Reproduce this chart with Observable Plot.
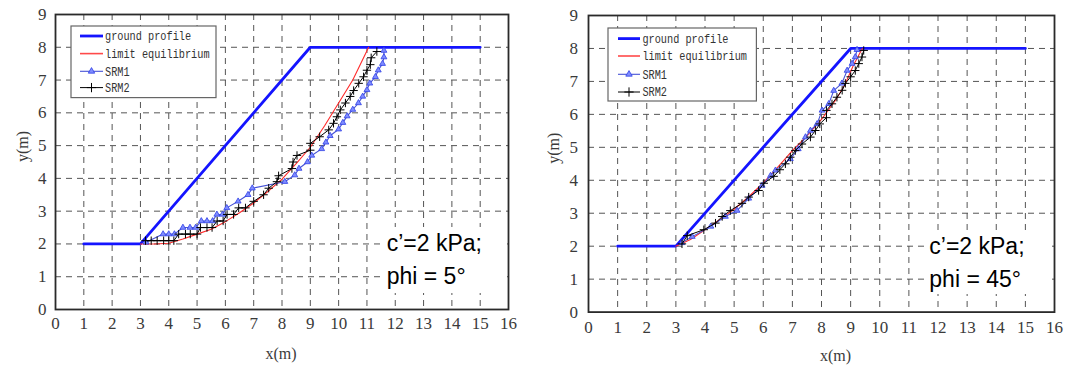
<!DOCTYPE html>
<html><head><meta charset="utf-8">
<script src="https://cdn.jsdelivr.net/npm/d3@7"></script>
<script src="https://cdn.jsdelivr.net/npm/@observablehq/plot@0.6"></script>
<style>
body{margin:0;background:#fff;}
#wrap{position:relative;width:1065px;height:367px;overflow:hidden;background:#fff;}
.panel{position:absolute;top:0;}
.note{position:absolute;font-family:"Liberation Sans",Arial,sans-serif;font-size:23px;line-height:33px;color:#000;white-space:nowrap;background:#fff;box-sizing:border-box;}
.leg{position:absolute;overflow:visible;}
</style></head><body><div id="wrap"></div>
<script>
// ---------- data ----------
const xTicks = d3.range(0, 17);
const yTicks = d3.range(0, 10);
const xGrid = d3.range(1, 16);
const yGrid = d3.range(1, 9);
const legendLabels = ["ground profile", "limit equilibrium", "SRM1", "SRM2"];
const notesLeft = ["c\u2019=2 kPa;", "phi = 5\u00b0"];
const notesRight = ["c\u2019=2 kPa;", "phi = 45\u00b0"];

const groundProfile = [[1,2],[3,2],[9,8],[15,8]];

// phi = 5 deg
const leLeft = [[3,2],[3.5,2.0],[4,2.02],[4.5,2.15],[5,2.3],[5.5,2.45],[6,2.68],[6.5,2.95],[7,3.25],[7.5,3.6],[8,3.98],[8.5,4.45],[9,4.95],[9.5,5.6],[10,6.3],[10.5,7.0],[11.06,8.0]];
const srm1Left = [[3.2,2.05],[3.8,2.3],[4.0,2.3],[4.2,2.3],[4.5,2.5],[4.75,2.5],[4.95,2.5],[5.15,2.7],[5.35,2.7],[5.55,2.7],[5.7,2.9],[5.9,2.9],[6.05,3.1],[6.45,3.3],[6.8,3.5],[6.95,3.7],[8.1,3.9],[8.45,4.1],[8.6,4.3],[8.9,4.5],[9.05,4.7],[9.4,4.9],[9.55,5.1],[9.7,5.3],[10.0,5.5],[10.15,5.7],[10.3,5.9],[10.5,6.1],[10.7,6.3],[10.85,6.5],[11.0,6.7],[11.1,6.9],[11.3,7.1],[11.4,7.3],[11.55,7.5],[11.6,7.7],[11.6,7.9]];
const srm2Left = [[3.18,2.1],[3.38,2.1],[3.59,2.1],[3.82,2.1],[4.0,2.1],[4.18,2.1],[4.35,2.3],[4.59,2.3],[4.76,2.3],[5.0,2.3],[5.12,2.5],[5.35,2.5],[5.53,2.5],[5.71,2.7],[5.92,2.7],[6.06,2.9],[6.29,2.9],[6.47,3.1],[6.71,3.1],[7.0,3.3],[7.35,3.5],[7.53,3.7],[7.82,3.9],[7.88,4.08],[8.35,4.3],[8.39,4.5],[8.53,4.7],[9.0,4.86],[9.0,5.07],[9.33,5.27],[9.65,5.48],[9.82,5.68],[9.94,5.88],[10.06,6.09],[10.24,6.3],[10.41,6.5],[10.53,6.68],[10.71,6.9],[10.88,7.1],[11.0,7.3],[11.12,7.47],[11.15,7.68],[11.35,7.87]];

// phi = 45 deg
const leRight = [[3,2],[3.5,2.2],[4,2.5],[4.5,2.8],[5,3.12],[5.5,3.5],[6,3.92],[6.5,4.4],[7,4.9],[7.5,5.35],[8,5.85],[8.5,6.45],[8.8,6.9],[9.1,7.5],[9.4,8.0]];
const srm1Right = [[3.2,2.1],[3.56,2.29],[4.2,2.6],[4.7,2.9],[5.1,3.08],[5.5,3.45],[5.96,3.84],[6.25,4.14],[6.42,4.3],[6.93,4.65],[7.2,4.95],[7.45,5.31],[7.62,5.51],[7.85,5.71],[8.02,6.12],[8.25,6.32],[8.42,6.72],[8.7,6.94],[8.88,7.33],[9.05,7.54],[9.16,7.74],[9.22,7.96]];
const srm2Right = [[3.21,2.07],[3.39,2.32],[3.96,2.5],[4.36,2.7],[4.59,2.9],[4.87,3.08],[5.27,3.3],[5.5,3.49],[5.84,3.69],[6.02,3.91],[6.36,4.12],[6.57,4.32],[6.76,4.5],[6.93,4.7],[7.1,4.9],[7.33,5.1],[7.62,5.31],[7.79,5.51],[7.94,5.71],[8.17,5.9],[8.17,6.12],[8.36,6.32],[8.53,6.52],[8.71,6.73],[8.82,6.94],[9.0,7.14],[9.16,7.33],[9.28,7.54],[9.39,7.74],[9.45,7.94]];

// ---------- styles ----------
const C = {ground:"#1414ff", le:"#ff2a2a", srm1:"#4652d6", srm1Fill:"#7f8cff", srm2:"#000", grid:"#555", frame:"#2a2a2a", tick:"#3a3a3a"};
const SERIF = "'Liberation Serif', 'DejaVu Serif', serif";

const panels = [
  {left:0, width:535, mL:55, mR:27, mT:14, mB:58, tickPadX:7, tickPadY:9, xLabDx:-1, yLabDx:-33,
   le:leLeft, s1:srm1Left, s2:srm2Left, notes:notesLeft,
   note:{l:383, t:228, w:124, h:66, pl:3.7, pt:-0.8},
   leg:{x:71.3, y:25.7, w:145, h:71.6, sx1:9, sx2:32, tx:34, rows:[10,27.6,45.3,61.6]}},
  {left:540, width:525, mL:48, mR:11, mT:15, mB:55.4, tickPadX:8.5, tickPadY:10.5, xLabDx:14, yLabDx:-35,
   le:leRight, s1:srm1Right, s2:srm2Right, notes:notesRight,
   note:{l:385, t:231, w:127, h:64, pl:4.3, pt:-1.5},
   leg:{x:68.3, y:27.7, w:148.4, h:73, sx1:10, sx2:32, tx:34.4, rows:[10.6,28,46.3,64]}}
];

const wrap = document.getElementById("wrap");
const X = d => d[0], Y = d => d[1];

for (const p of panels) {
  const div = document.createElement("div");
  div.className = "panel";
  div.style.left = p.left + "px";
  div.style.width = p.width + "px";
  div.style.height = "367px";
  wrap.appendChild(div);

  const chart = Plot.plot({
    width: p.width, height: 367,
    marginLeft: p.mL, marginRight: p.mR, marginTop: p.mT, marginBottom: p.mB,
    x: {domain: [0, 16], axis: null},
    y: {domain: [0, 9], axis: null},
    style: {fontFamily: SERIF, fontSize: "17px", background: "transparent", color: C.tick},
    marks: [
      Plot.ruleX(xGrid, {x: d => d, stroke: C.grid, strokeWidth: 1, strokeDasharray: "6,5"}),
      Plot.ruleY(yGrid, {y: d => d, stroke: C.grid, strokeWidth: 1, strokeDasharray: "6,5"}),
      Plot.line(groundProfile, {x: X, y: Y, stroke: C.ground, strokeWidth: 2.8}),
      Plot.line(p.le, {x: X, y: Y, stroke: C.le, strokeWidth: 1.1}),
      Plot.line(p.s1, {x: X, y: Y, stroke: C.srm1, strokeWidth: 1.1}),
      Plot.dot(p.s1, {x: X, y: Y, symbol: "triangle", r: 2.2, fill: C.srm1Fill, stroke: "#2f3fe6", strokeWidth: 0.8}),
      Plot.line(p.s2, {x: X, y: Y, stroke: C.srm2, strokeWidth: 1}),
      Plot.dot(p.s2, {x: X, y: Y, symbol: "plus", r: 2.8, stroke: C.srm2, fill: "none", strokeWidth: 1}),
      Plot.frame({stroke: C.frame, strokeWidth: 1.8}),
      Plot.axisX(xTicks, {tickSize: 0, tickPadding: p.tickPadX, label: null, fill: C.tick, fontSize: 17, fontFamily: SERIF}),
      Plot.axisY(yTicks, {tickSize: 0, tickPadding: p.tickPadY, label: null, fill: C.tick, fontSize: 17, fontFamily: SERIF}),
      Plot.text(["x(m)"], {text: d => d, frameAnchor: "bottom", dy: 49, dx: p.xLabDx, fontSize: 16, fontFamily: SERIF, fill: C.tick}),
      Plot.text(["y(m)"], {text: d => d, frameAnchor: "left", dx: p.yLabDx, rotate: -90, fontSize: 16, fontFamily: SERIF, fill: C.tick})
    ]
  });
  chart.style.position = "absolute";
  chart.style.left = "0px";
  chart.style.top = "0px";
  div.appendChild(chart);

  // legend
  const L = p.leg;
  const svg = d3.select(div).append("svg")
    .attr("class", "leg")
    .attr("width", L.w + 60).attr("height", L.h + 2)
    .style("left", (L.x - 1) + "px").style("top", (L.y - 1) + "px");
  svg.append("rect").attr("x", 1).attr("y", 1).attr("width", L.w).attr("height", L.h)
    .attr("fill", "#fff").attr("stroke", "#666").attr("stroke-width", 1.2);
  const lineStyles = [
    {stroke: C.ground, w: 2.8},
    {stroke: "#ff4a4a", w: 1.6},
    {stroke: C.srm1, w: 1.1},
    {stroke: C.srm2, w: 1}
  ];
  legendLabels.forEach((lab, i) => {
    const yy = 1 + L.rows[i];
    svg.append("line").attr("x1", 1 + L.sx1).attr("x2", 1 + L.sx2).attr("y1", yy).attr("y2", yy)
      .attr("stroke", lineStyles[i].stroke).attr("stroke-width", lineStyles[i].w);
    const cx = 1 + (L.sx1 + L.sx2) / 2;
    if (i === 2) {
      svg.append("path").attr("d", d3.symbol(d3.symbolTriangle, 18)()).attr("transform", `translate(${cx},${yy})`)
        .attr("fill", C.srm1Fill).attr("stroke", "#2f3fe6").attr("stroke-width", 0.8);
    }
    if (i === 3) {
      svg.append("path").attr("d", d3.symbol(d3.symbolPlus, 30)()).attr("transform", `translate(${cx},${yy})`)
        .attr("fill", "none").attr("stroke", "#000").attr("stroke-width", 1);
    }
    svg.append("text").attr("x", 1 + L.tx).attr("y", yy).attr("dy", "0.35em")
      .attr("font-family", "'Liberation Mono', monospace").attr("font-size", 12.5)
      .attr("fill", "#333")
      .attr("textLength", lab.length * 6.15).attr("lengthAdjust", "spacingAndGlyphs")
      .text(lab);
  });

  // annotation (white box covering grid)
  const N = p.note;
  const note = document.createElement("div");
  note.className = "note";
  note.style.left = N.l + "px";
  note.style.top = N.t + "px";
  note.style.width = N.w + "px";
  note.style.height = N.h + "px";
  note.style.paddingLeft = N.pl + "px";
  note.style.paddingTop = "0px";
  note.style.marginTop = N.pt + "px";
  note.innerHTML = p.notes.join("<br>");
  div.appendChild(note);
}
</script>
</body></html>
